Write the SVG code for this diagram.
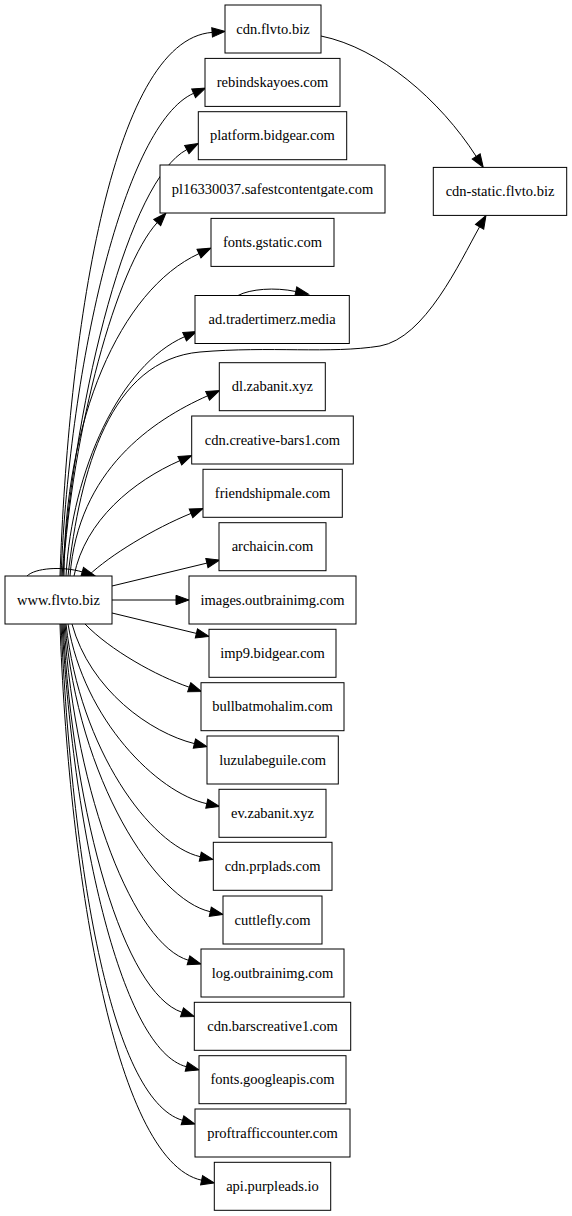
<svg xmlns="http://www.w3.org/2000/svg" width="572" height="1216" viewBox="0 0 572 1216">
<style>
.node rect{fill:#fff;stroke:#000;stroke-width:1}
.node text{font-family:"Liberation Serif","Times New Roman",serif;font-size:14.5px;text-anchor:middle;fill:#000}
#edges path{fill:none;stroke:#000;stroke-width:1;marker-end:url(#arr)}
</style>
<defs>
<marker id="arr" markerUnits="userSpaceOnUse" viewBox="0 0 13 9.4" markerWidth="13" markerHeight="9.4" refX="0" refY="4.7" orient="auto" overflow="visible">
<path d="M0,0 L13,4.7 L0,9.4 Z" fill="#000" stroke="#000" stroke-width="1"/>
</marker>
</defs>
<rect x="0" y="0" width="572" height="1216" fill="#fff"/>
<g id="edges">
<path d="M27,576 C35,568 62,566 82.2,571.9"/>
<path d="M238,295.5 C250,289 275,287 295.8,291.5"/>
<path d="M321,36 C380,48 440,100 476.2,156.4"/>
<path d="M60,576 C68,340 110,40 212.1,32.4"/>
<path d="M61,576 C70,360 125,123.8 193.6,93.3"/>
<path d="M62,576 C76,390 129.3,179.9 186.8,149.6"/>
<path d="M63,576 C72,430 116.8,267 157.2,222.6"/>
<path d="M64,576 C64,420 120,290 199,253.6"/>
<path d="M66,576 C72,470 120,365 184.6,336.7"/>
<path d="M68,576 C80,470 110,360 200,352 C270,346 330,354 380,346 C425,338 459.4,262.8 479.6,226.8"/>
<path d="M70,576 C78,470 152.8,420.2 207.6,395.8"/>
<path d="M74,576 C85,520 134,480.8 179.8,460.7"/>
<path d="M88,576 C110,555 154,528.5 191,513.4"/>
<path d="M112,586 L206.9,563.1"/>
<path d="M112,600 L176,600"/>
<path d="M112,613 L196.4,633.4"/>
<path d="M85,624 C110,650 156.1,675.8 189.2,687.2"/>
<path d="M72,624 C90,690 150.5,732.8 194.4,743.6"/>
<path d="M68,624 C84,720 157.2,792.6 206.8,803.7"/>
<path d="M66,624 C80,750 150.7,845.6 200.3,856.7"/>
<path d="M65,624 C78,780 155.8,899.6 210.3,911.7"/>
<path d="M64,624 C76,800 134.8,944.4 188.5,960.3"/>
<path d="M63,624 C74,820 124.2,992.8 182,1012.3"/>
<path d="M62,624 C74,840 122.6,1050.2 186.4,1066.7"/>
<path d="M61,624 C72,860 109.6,1098.7 182.5,1120.3"/>
<path d="M60,624 C68,860 112.5,1160.8 201.6,1180.2"/>
</g>
<g id="n-www" class="node"><rect x="5" y="576" width="107" height="48"/><text x="58.5" y="604.5">www.flvto.biz</text></g>
<g id="n-cdnflvto" class="node"><rect x="225" y="5" width="96" height="48"/><text x="273" y="33.5">cdn.flvto.biz</text></g>
<g id="n-rebind" class="node"><rect x="205" y="58.4" width="135" height="48"/><text x="272.5" y="86.9">rebindskayoes.com</text></g>
<g id="n-platform" class="node"><rect x="198.3" y="111.7" width="148.4" height="48"/><text x="272.5" y="140.2">platform.bidgear.com</text></g>
<g id="n-pl163" class="node"><rect x="160" y="165" width="225" height="48"/><text x="272.5" y="193.5">pl16330037.safestcontentgate.com</text></g>
<g id="n-gstatic" class="node"><rect x="211" y="218.4" width="123" height="48"/><text x="272.5" y="246.9">fonts.gstatic.com</text></g>
<g id="n-adtrader" class="node"><rect x="195" y="295.5" width="154.3" height="48"/><text x="272.2" y="324">ad.tradertimerz.media</text></g>
<g id="n-cdnstatic" class="node"><rect x="433.3" y="167.4" width="133.4" height="48"/><text x="500" y="195.9">cdn-static.flvto.biz</text></g>
<g id="n-dlzabanit" class="node"><rect x="219.3" y="362.7" width="106" height="48"/><text x="272.3" y="391.2">dl.zabanit.xyz</text></g>
<g id="n-creative" class="node"><rect x="191.7" y="416" width="161.6" height="48"/><text x="272.5" y="444.5">cdn.creative-bars1.com</text></g>
<g id="n-friendship" class="node"><rect x="203" y="469.3" width="139.3" height="48"/><text x="272.6" y="497.8">friendshipmale.com</text></g>
<g id="n-archaicin" class="node"><rect x="219" y="522.7" width="107" height="48"/><text x="272.5" y="551.2">archaicin.com</text></g>
<g id="n-images" class="node"><rect x="189" y="576" width="167" height="48"/><text x="272.5" y="604.5">images.outbrainimg.com</text></g>
<g id="n-imp9" class="node"><rect x="209" y="629.3" width="127" height="48"/><text x="272.5" y="657.8">imp9.bidgear.com</text></g>
<g id="n-bullbat" class="node"><rect x="201" y="682.7" width="143" height="48"/><text x="272.5" y="711.2">bullbatmohalim.com</text></g>
<g id="n-luzula" class="node"><rect x="207" y="736" width="131.3" height="48"/><text x="272.6" y="764.5">luzulabeguile.com</text></g>
<g id="n-evzabanit" class="node"><rect x="219" y="789.3" width="107" height="48"/><text x="272.5" y="817.8">ev.zabanit.xyz</text></g>
<g id="n-prplads" class="node"><rect x="213.3" y="842.3" width="118.7" height="48"/><text x="272.6" y="870.8">cdn.prplads.com</text></g>
<g id="n-cuttlefly" class="node"><rect x="223" y="896" width="99" height="48"/><text x="272.5" y="924.5">cuttlefly.com</text></g>
<g id="n-logoutbrain" class="node"><rect x="201" y="949" width="143" height="48"/><text x="272.5" y="977.5">log.outbrainimg.com</text></g>
<g id="n-barscreative" class="node"><rect x="194.3" y="1002.3" width="156.4" height="48"/><text x="272.5" y="1030.8">cdn.barscreative1.com</text></g>
<g id="n-googleapis" class="node"><rect x="199" y="1055.7" width="147" height="48"/><text x="272.5" y="1084.2">fonts.googleapis.com</text></g>
<g id="n-proftraffic" class="node"><rect x="195" y="1109" width="155" height="48"/><text x="272.5" y="1137.5">proftrafficcounter.com</text></g>
<g id="n-purpleads" class="node"><rect x="214.3" y="1162.3" width="116.4" height="48"/><text x="272.5" y="1190.8">api.purpleads.io</text></g>
</svg>
